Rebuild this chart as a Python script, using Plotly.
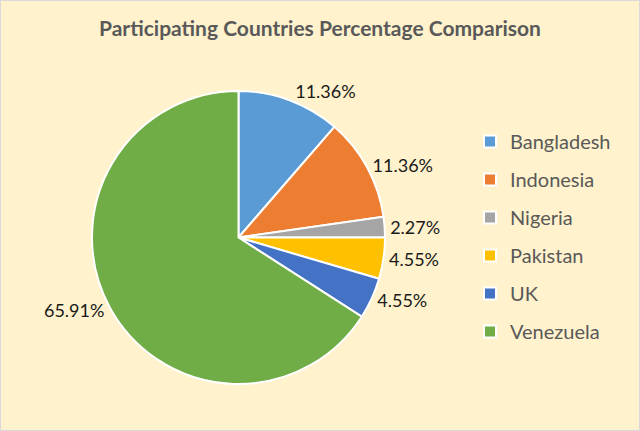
import plotly.graph_objects as go

countries = ["Bangladesh", "Indonesia", "Nigeria", "Pakistan", "UK", "Venezuela"]
counts = [5, 5, 1, 2, 2, 29]
colors = ["#5B9BD5", "#ED7D31", "#A5A5A5", "#FFC000", "#4472C4", "#70AD47"]

W, H = 640, 431
fig = go.Figure()
fig.add_trace(go.Pie(
    labels=countries, values=counts, sort=False, direction="clockwise", rotation=0,
    marker=dict(colors=colors, line=dict(color="white", width=2)),
    textposition="outside", texttemplate="%{percent:.2%}",
    textfont=dict(family="Lato", size=18, color="#1a1a1a"),
    domain=dict(x=[92/W, 385/W], y=[1-384/H, 1-91/H]),
    showlegend=False, hoverinfo="label+percent",
))
# legend entries as dummy traces (one group each for Excel-like spacing)
for c, col in zip(countries, colors):
    fig.add_trace(go.Scatter(
        x=[None], y=[None], mode="markers", name=c, legendgroup=c,
        marker=dict(symbol="square", size=9, color=col, line=dict(color="white", width=2)),
    ))

fig.update_layout(
    width=W, height=H, margin=dict(l=0, r=0, t=0, b=0),
    paper_bgcolor="#FFF2CC", plot_bgcolor="#FFF2CC",
    xaxis=dict(visible=False), yaxis=dict(visible=False),
    title=dict(text="<b>Participating Countries Percentage Comparison</b>",
               x=0.5, xanchor="center", y=1-29/H, yanchor="middle",
               font=dict(family="Lato", size=21, color="#595959")),
    legend=dict(x=470/W, xanchor="left", y=1-122/H, yanchor="top",
                font=dict(family="Lato", size=20, color="#595959"),
                tracegroupgap=9, bgcolor="rgba(0,0,0,0)", itemsizing="constant"),
    shapes=[dict(type="rect", xref="paper", yref="paper", x0=0, y0=0, x1=1, y1=1,
                 line=dict(color="#D9D9D9", width=2), fillcolor="rgba(0,0,0,0)")],
)
fig.write_html("out.html")
